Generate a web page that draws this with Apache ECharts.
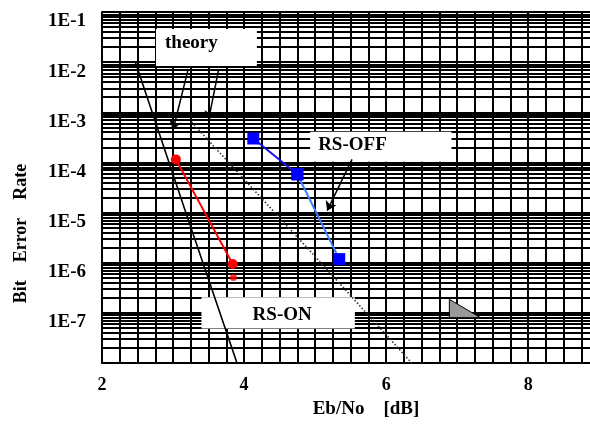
<!DOCTYPE html>
<html>
<head>
<meta charset="utf-8">
<script src="https://cdn.jsdelivr.net/npm/echarts@6/dist/echarts.min.js"></script>
<style>
html, body { margin: 0; padding: 0; background: #fff; }
#main { width: 590px; height: 428px; }
</style>
</head>
<body>
<div id="main"></div>
<script>
// values: x = Eb/No [dB], y = bit error rate
var theoryOn = [[2.47, 1.0e-2], [3.18, 1.0e-5], [3.90, 1.0e-8]];
var theoryOff = [[3.26, 6.4e-4], [5.08, 1.0e-6], [6.36, 1.0e-8]];
var rsOn = [[3.04, 1.15e-4], [3.84, 9.4e-7]];
var rsOnLow = [[3.85, 5.1e-7]];
var rsOff = [[4.13, 3.0e-4], [4.75, 5.8e-5], [5.34, 1.18e-6]];
var xLabels = [2, 4, 6, 8];
var yLabels = [1e-7, 1e-6, 1e-5, 1e-4, 1e-3, 1e-2, 1e-1];

// grid lines: every 0.25 dB, and 1..9 in every decade
var xGrid = [];
for (var i = 0; i < 28; i++) { xGrid.push(2 + i * 0.25); }
var yGrid = [];
for (var n = -8; n <= -2; n++) {
    for (var k = 1; k <= 9; k++) { yGrid.push(k * Math.pow(10, n)); }
}
yGrid.push(1e-1);

var font = '"Liberation Serif", "Times New Roman", serif';
var gridLine = { color: '#000', width: 2 };

var chart = echarts.init(document.getElementById('main'));

chart.setOption({
    animation: false,
    backgroundColor: '#fff',
    grid: { left: 102, right: 0, top: 12, bottom: 65 },
    xAxis: {
        type: 'value',
        min: 2,
        max: 8.87,
        name: 'Eb/No    [dB]',
        nameLocation: 'middle',
        nameGap: 37,
        nameTextStyle: { fontFamily: font, fontWeight: 'bold', fontSize: 19, color: '#000', padding: [0, 0, 0, 40] },
        axisLine: { show: true, lineStyle: { color: '#000', width: 2 } },
        axisTick: { show: false, customValues: xGrid },
        axisLabel: {
            customValues: xLabels,
            margin: 13,
            fontFamily: font, fontWeight: 'bold', fontSize: 18, color: '#000'
        },
        splitLine: { show: true, lineStyle: gridLine }
    },
    yAxis: {
        type: 'log',
        logBase: 10,
        min: 1e-8,
        max: 1e-1,
        name: 'Bit    Error    Rate',
        nameLocation: 'middle',
        nameGap: 72,
        nameTextStyle: { fontFamily: font, fontWeight: 'bold', fontSize: 18, color: '#000', padding: [0, 92, 0, 0] },
        axisLine: { show: true, lineStyle: { color: '#000', width: 2 } },
        axisTick: { show: false, customValues: yGrid },
        axisLabel: {
            customValues: yLabels,
            margin: 16,
            verticalAlign: 'top',
            fontFamily: font, fontWeight: 'bold', fontSize: 19, color: '#000',
            formatter: function (v) { return '1E' + Math.round(Math.log10(v)); }
        },
        splitLine: { show: true, lineStyle: gridLine }
    },
    series: [
        {
            // annotation boxes and arrows
            type: 'line',
            data: [],
            markArea: {
                silent: true,
                itemStyle: { color: '#fff', opacity: 1 },
                label: { fontFamily: font, fontWeight: 'bold', fontSize: 19, color: '#000' },
                data: [
                    [{ name: 'theory', coord: [2.76, 4.58e-2], label: { position: 'insideLeft', distance: 9, offset: [0, -4] } },
                     { coord: [4.18, 8.37e-3] }],
                    [{ name: 'RS-OFF', coord: [4.93, 4.1e-4], label: { position: 'insideLeft', distance: 8, offset: [0, -2] } },
                     { coord: [6.92, 1.03e-4] }],
                    [{ name: 'RS-ON', coord: [3.40, 2.04e-7], label: { position: 'inside', offset: [4, 2] } },
                     { coord: [5.56, 4.9e-8] }]
                ]
            },
            markLine: {
                silent: true,
                symbol: ['none', 'arrow'],
                symbolSize: 9,
                label: { show: false },
                lineStyle: { color: '#000', width: 1.5, type: 'solid' },
                data: [
                    [{ coord: [3.21, 6.97e-3] }, { coord: [3.00, 4.43e-4] }],
                    [{ coord: [3.64, 6.97e-3] }, { coord: [3.50, 7.0e-4] }],
                    [{ coord: [5.52, 1.15e-4] }, { coord: [5.17, 1.09e-5] }]
                ]
            }
        },
        {
            name: 'theory RS-ON',
            type: 'line',
            data: theoryOn,
            showSymbol: false,
            lineStyle: { color: '#000', width: 1.6 }
        },
        {
            name: 'theory RS-OFF',
            type: 'line',
            data: theoryOff,
            showSymbol: false,
            lineStyle: { color: '#333', width: 1.6, type: [1.5, 2] }
        },
        {
            name: 'RS-ON',
            type: 'line',
            data: rsOn,
            symbol: 'circle',
            symbolSize: 10,
            itemStyle: { color: '#ff0000' },
            lineStyle: { color: '#ff0000', width: 2 }
        },
        {
            name: 'RS-ON low',
            type: 'scatter',
            data: rsOnLow,
            symbol: 'circle',
            symbolSize: 7,
            itemStyle: { color: '#ff0000' }
        },
        {
            name: 'RS-OFF upper',
            type: 'line',
            data: rsOff.slice(0, 2),
            symbol: 'rect',
            symbolSize: 12,
            itemStyle: { color: '#0000ff' },
            lineStyle: { color: '#1414e6', width: 2 }
        },
        {
            name: 'RS-OFF lower',
            type: 'line',
            data: rsOff.slice(1),
            symbol: 'rect',
            symbolSize: 12,
            itemStyle: { color: '#0000ff' },
            lineStyle: { color: '#3d7dff', width: 2 }
        },
        {
            // small grey wedge near 7 dB
            type: 'custom',
            data: [[6.89, 1.86e-7, 7.33, 8.0e-8]],
            renderItem: function (params, api) {
                var a = api.coord([api.value(0), api.value(1)]);
                var b = api.coord([api.value(2), api.value(3)]);
                return {
                    type: 'polygon',
                    shape: { points: [[a[0], a[1]], [a[0], b[1]], [b[0], b[1]]] },
                    style: { fill: '#999', stroke: '#000', lineWidth: 1 }
                };
            }
        }
    ]
});
</script>
</body>
</html>
